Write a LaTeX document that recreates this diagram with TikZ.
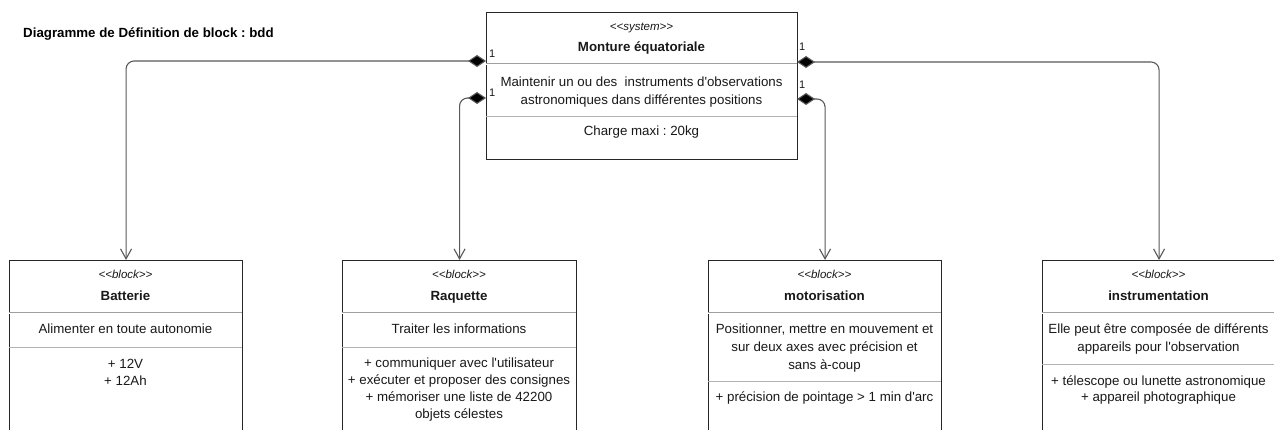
\documentclass[tikz,border=0pt]{standalone}
\usepackage{fontspec}
\setmainfont{Liberation Sans}
\usetikzlibrary{arrows.meta}
\frenchspacing
\newcommand{\apos}{\textquotesingle}
\begin{document}
\begin{tikzpicture}[x=1pt,y=-1pt,
  box/.style={draw=black!85, line width=1.1pt, inner sep=0pt, anchor=north west},
  divtwo/.style={draw=gray!75, double=white, double distance=0.8pt, line width=0.8pt},
  divone/.style={draw=gray!60, line width=0.9pt},
  conn/.style={draw=black!65, line width=1.1pt, rounded corners=8pt,
    {Diamond[length=18pt,width=12pt,fill=black]}-{Straight Barb[length=10pt,width=11pt]}},
  txt/.style={anchor=base, inner sep=0pt, text=black!90, font=\fontsize{13.3}{16}\selectfont},
  bname/.style={txt, font=\fontsize{13.3}{16}\selectfont\bfseries},
  ster/.style={anchor=base, inner sep=0pt, text=black!90, font=\fontsize{11.5}{14}\selectfont\itshape},
  mult/.style={anchor=base west, inner sep=0pt, text=black!90, font=\fontsize{11}{13}\selectfont}]
\useasboundingbox (0,0) rectangle (1274,430);
\clip (0,0) rectangle (1274,430);
\fill[white] (0,0) rectangle (1274,430);

\node[anchor=base west, inner sep=0pt, font=\fontsize{13.3}{16}\selectfont\bfseries] (title) at (23,38) {Diagramme de Définition de block : bdd};

% system block
\node[box, minimum width=311pt, minimum height=147pt] (sys) at (486,12) {};
\draw[divtwo] (486,64) -- (797,64);
\draw[divone] (486,116) -- (797,116);
\node[ster] (sysst) at (641.5,31) {{<}{<}system{>}{>}};
\node[bname] (sysname) at (641.5,52) {Monture équatoriale};
\node[txt] (sysop1) at (641.5,86.5) {Maintenir un ou des\ \ instruments d\apos observations};
\node[txt] (sysop2) at (641.5,104.5) {astronomiques dans différentes positions};
\node[txt] (sysval) at (641.5,135.5) {Charge maxi : 20kg};

% Batterie
\node[box, minimum width=233pt, minimum height=190pt] (bat) at (9,260) {};
\draw[divtwo] (9,313) -- (242,313);
\draw[divone] (9,347) -- (242,347);
\node[ster] (batst) at (125.5,279) {{<}{<}block{>}{>}};
\node[bname] (batname) at (125.5,300.5) {Batterie};
\node[txt] (batop) at (125.5,333.5) {Alimenter en toute autonomie};
\node[txt] (batv1) at (125.5,368.5) {+ 12V};
\node[txt] (batv2) at (125.5,385.5) {+ 12Ah};

% Raquette
\node[box, minimum width=234pt, minimum height=190pt] (raq) at (342,260) {};
\draw[divtwo] (342,313) -- (576,313);
\draw[divone] (342,347) -- (576,347);
\node[ster] (raqst) at (459,279) {{<}{<}block{>}{>}};
\node[bname] (raqname) at (459,300.5) {Raquette};
\node[txt] (raqop) at (459,333.5) {Traiter les informations};
\node[txt] (raqv1) at (459,367.5) {+ communiquer avec l\apos utilisateur};
\node[txt] (raqv2) at (459,384.5) {+ exécuter et proposer des consignes};
\node[txt] (raqv3) at (459,401.5) {+ mémoriser une liste de 42200};
\node[txt] (raqv4) at (459,418.5) {objets célestes};

% motorisation
\node[box, minimum width=233pt, minimum height=190pt] (mot) at (708,260) {};
\draw[divtwo] (708,313) -- (941,313);
\draw[divone] (708,381) -- (941,381);
\node[ster] (motst) at (824.5,279) {{<}{<}block{>}{>}};
\node[bname] (motname) at (824.5,300.5) {motorisation};
\node[txt] (motop1) at (824.5,333.5) {Positionner, mettre en mouvement et};
\node[txt] (motop2) at (824.5,351.5) {sur deux axes avec précision et};
\node[txt] (motop3) at (824.5,369.5) {sans à-coup};
\node[txt] (motv1) at (824.5,401.5) {+ précision de pointage > 1 min d\apos arc};

% instrumentation
\node[box, minimum width=233pt, minimum height=190pt] (ins) at (1042,260) {};
\draw[divtwo] (1042,313) -- (1275,313);
\draw[divone] (1042,364) -- (1275,364);
\node[ster] (insst) at (1158.5,279) {{<}{<}block{>}{>}};
\node[bname] (insname) at (1158.5,300.5) {instrumentation};
\node[txt] (insop1) at (1158.5,333.5) {Elle peut être composée de différents};
\node[txt] (insop2) at (1158.5,351.5) {appareils pour l\apos observation};
\node[txt] (insv1) at (1158.5,385.5) {+ télescope ou lunette astronomique};
\node[txt] (insv2) at (1158.5,401.5) {+ appareil photographique};

% connectors
\coordinate (sL1) at (486,61);
\coordinate (sL2) at (486,98);
\coordinate (sR1) at (797,62);
\coordinate (sR2) at (797,99);
\draw[conn] (sL1) -| (bat.north);
\draw[conn] (sL2) -| (raq.north);
\draw[conn] (sR1) -| (ins.north);
\draw[conn] (sR2) -| (mot.north);

\node[mult] (m1) at (489,58) {1};
\node[mult] (m2) at (489,97) {1};
\node[mult] (m3) at (799,51) {1};
\node[mult] (m4) at (799,89) {1};
\end{tikzpicture}
\end{document}
